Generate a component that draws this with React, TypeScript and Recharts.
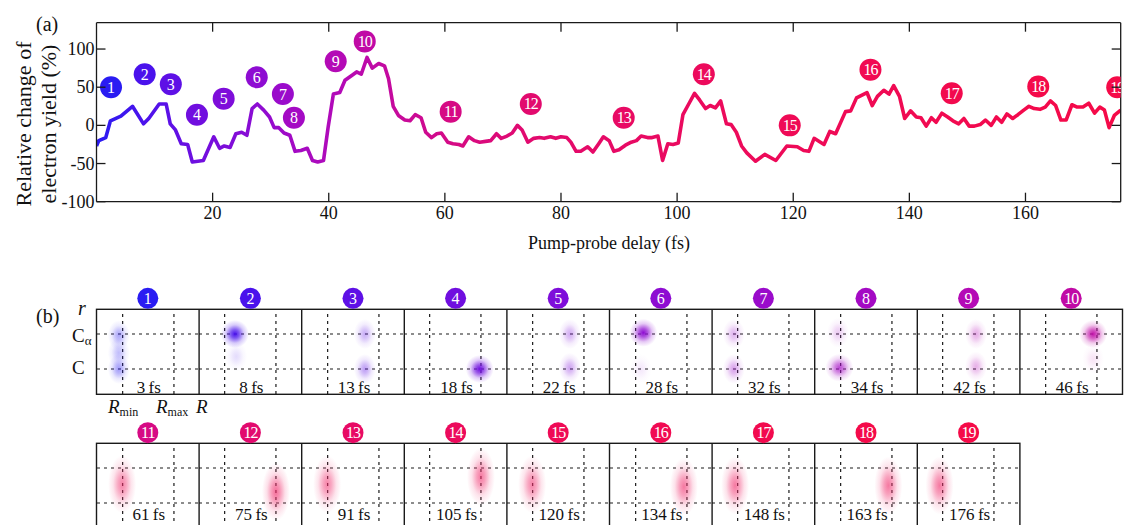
import React from 'react';
import { ComposedChart, Line, Scatter, XAxis, YAxis, ScatterChart, ReferenceLine } from 'recharts';

const W = 1127;
const H = 525;
const FONT = '"Liberation Serif","Times New Roman",serif';

// ---- panel (a) data: pump-probe delay (fs) and relative change of electron yield (%)
const delays = [
  0, 0.4, 1.6, 2.4, 4.2, 6.2, 8.1, 9, 10.8, 12,
  12.7, 13.6, 14.6, 15.7, 16.5, 18.4, 20.2, 21.2, 22, 23,
  24, 25, 25.9, 26.8, 27.7, 28.8, 29.8, 30.6, 31.4, 32.3,
  33.3, 34.2, 35.2, 36.3, 37.2, 38.1, 39.1, 39.9, 40.8, 41.9,
  42.8, 43.9, 44.8, 45.6, 46.6, 47.5, 48.6, 49.6, 50.3, 51.1,
  52, 53.1, 54, 54.9, 55.9, 56.7, 57.7, 58.6, 59.4, 60.5,
  61.4, 62.4, 63.1, 64.1, 65.1, 66, 67, 67.9, 68.9, 69.7,
  70.7, 71.6, 72.5, 73.3, 74.3, 75.3, 76.3, 77.1, 78.2, 79.1,
  80, 81, 81.7, 82.6, 83.4, 84.6, 85.5, 86.5, 87.3, 88.3,
  89.1, 90, 91.1, 92.1, 93, 93.8, 94.9, 95.7, 96.7, 97.5,
  98.4, 99.3, 100.2, 101, 102, 103, 103.9, 104.9, 105.7, 106.6,
  107.5, 108.5, 109.3, 110.2, 111.1, 112, 113.5, 115.1, 117, 118.9,
  120.7, 121.8, 122.7, 123.6, 125.3, 126.3, 127.3, 129, 129.9, 130.9,
  132.7, 133.6, 134.5, 135.6, 136.5, 137.3, 138.3, 139.2, 140.2, 141.2,
  142, 142.9, 143.8, 144.6, 145.6, 146.6, 147.5, 148.5, 149.4, 150.3,
  151.2, 152.2, 153.1, 154.1, 155, 155.9, 156.8, 157.8, 158.7, 159.7,
  160.6, 161.5, 162.5, 163.4, 164.3, 165.2, 166.1, 167, 168, 168.9,
  169.9, 170.9, 171.9, 172.8, 173.6, 174.4, 175.3, 176.4,
];
const yields = [
  -27, -20, -16, 6, 12, 25, 2, 9, 28, 28,
  2, -6, -24, -25, -48, -46, -15, -30, -27, -29,
  -11, -9, -13, 22, 28, 20, 11, -3, -3, -10,
  -13, -34, -33, -30, -46, -48, -46, -2, 41, 43,
  59, 65, 70, 67, 89, 75, 81, 78, 61, 25,
  13, 7, 6, 14, 10, -9, -16, -11, -10, -22,
  -24, -25, -27, -15, -20, -22, -21, -20, -11, -17,
  -14, -10, 0, -6, -22, -17, -16, -17, -15, -17,
  -15, -16, -22, -34, -34, -28, -35, -24, -15, -20,
  -34, -32, -26, -22, -20, -14, -16, -16, -14, -46,
  -24, -25, -23, 14, 28, 42, 33, 22, 26, 23,
  32, 2, 1, -9, -27, -36, -47, -38, -46, -27,
  -28, -33, -34, -17, -25, -8, -11, 18, 19, 36,
  43, 26, 38, 46, 41, 52, 38, 9, 19, 11,
  10, -1, 10, 4, 16, 11, 6, 2, 9, -1,
  -1, 1, 7, 0, 11, 4, 15, 9, 14, 20,
  25, 22, 21, 24, 32, 26, 7, 7, 27, 24,
  24, 29, 16, 24, 20, -3, 13, 20,
];

// numbered markers in (a)
const markerDelay = [2.5, 8.3, 12.8, 17.3, 21.9, 27.6, 32.1, 34, 41.2, 46.2, 61, 74.8, 90.8, 104.6, 119.4, 133.3, 147.3, 162.2, 175.8];
const markerValue = [50, 67, 54, 14, 35, 63, 41, 10, 84, 110, 18, 28, 10, 67, 0, 73, 42, 51, 50];
const markerColors = [
  '#2a1cf2', '#4a12ec', '#5e10e6', '#700edf', '#7e0dda', '#8e0cd2', '#9a0bcb', '#a40ac4', '#b40ab6', '#c00aa6',
  '#d60a84', '#e20a6e', '#e80a64', '#ec0a5c', '#ef0a56', '#f10a52', '#f20a4e', '#f40a4a', '#f50a48',
];

const xTicks = [20, 40, 60, 80, 100, 120, 140, 160];
const yTicks = [-100, -50, 0, 50, 100];

// ---- panel (b): snapshot delays and blob positions (R: 1 = Rmin, 3 = Rmax; r: 1 = C, 2.4 = Cα)
const snapshotTimes = [3, 8, 13, 18, 22, 28, 32, 34, 42, 46, 61, 75, 91, 105, 120, 134, 148, 163, 176];
const snapshotBlobs = [
  [{ R: 0.85, r: 2.35, w: 0.4 }, { R: 0.85, r: 1.65, w: 0.3 }, { R: 0.85, r: 1.0, w: 0.45 }],
  [{ R: 1.4, r: 2.4, w: 1 }, { R: 1.45, r: 1.5, w: 0.15 }],
  [{ R: 2.45, r: 2.4, w: 0.35 }, { R: 2.45, r: 1.0, w: 0.42 }],
  [{ R: 2.95, r: 1.0, w: 1 }],
  [{ R: 2.45, r: 2.4, w: 0.35 }, { R: 2.45, r: 1.05, w: 0.38 }],
  [{ R: 1.3, r: 2.45, w: 1 }, { R: 1.2, r: 1.0, w: 0.1 }],
  [{ R: 0.85, r: 2.4, w: 0.32 }, { R: 0.85, r: 1.0, w: 0.4 }],
  [{ R: 0.9, r: 2.45, w: 0.22 }, { R: 0.95, r: 1.05, w: 0.75 }],
  [{ R: 2.3, r: 2.4, w: 0.35 }, { R: 2.3, r: 1.1, w: 0.33 }],
  [{ R: 2.85, r: 2.4, w: 0.95 }, { R: 2.85, r: 1.4, w: 0.12 }],
  [{ R: 0.98, r: 1.75, w: 0.6 }],
  [{ R: 3.0, r: 1.45, w: 0.7 }],
  [{ R: 0.98, r: 1.75, w: 0.6 }],
  [{ R: 3.0, r: 2.05, w: 0.65 }],
  [{ R: 0.98, r: 1.75, w: 0.6 }],
  [{ R: 2.88, r: 1.65, w: 0.65 }],
  [{ R: 0.9, r: 1.7, w: 0.65 }],
  [{ R: 2.86, r: 1.7, w: 0.65 }],
  [{ R: 0.88, r: 1.7, w: 0.65 }],
];

const lineData = delays.map((t, i) => ({ t, y: yields[i] }));
const markerData = markerDelay.map((t, i) => ({ t, y: markerValue[i], n: i + 1, c: markerColors[i] }));

// layout
const TOP_H = 262;
const PL = 96.5;
const PR = 1120.7;
const PT = 22.7;
const PB = 201.7;
const LEFT_W = 60;
const BOTTOM_H = 30;
const PANEL_L = 96.5;
const PANEL_W = 102.6;
const PANEL_H = 85;
const ROW_TOP = [309.3, 443.3];
const INK = '#1a1a1a';
const txt = { fontFamily: FONT };

const BottomTick = (p: any) => {
  const { x, y, payload } = p;
  return (
    <g>
      <line x1={x} x2={x} y1={y} y2={y - 9} stroke={INK} strokeWidth={1.3} />
      <text x={x} y={y + 17} textAnchor="middle" fontSize={18} style={txt} fill="#111">{payload.value}</text>
    </g>
  );
};
const TopTick = (p: any) => {
  const { x, y } = p;
  return <line x1={x} x2={x} y1={y} y2={y + 9} stroke={INK} strokeWidth={1.3} />;
};
const LeftTick = (p: any) => {
  const { x, y, payload } = p;
  return (
    <g>
      <line x1={x} x2={x + 9} y1={y} y2={y} stroke={INK} strokeWidth={1.3} />
      <text x={x - 2} y={y + 6} textAnchor="end" fontSize={18} style={txt} fill="#111">{payload.value}</text>
    </g>
  );
};
const RightTick = (p: any) => {
  const { x, y } = p;
  return <line x1={x} x2={x - 9} y1={y} y2={y} stroke={INK} strokeWidth={1.3} />;
};

const MarkerShape = (p: any) => {
  const { cx, cy, payload } = p;
  return (
    <g>
      <circle cx={cx} cy={cy} r={11} fill={payload.c} />
      <text x={cx} y={cy + 5.5} textAnchor="middle" fontSize={16} style={txt} fill="#fff"
        letterSpacing={payload.n > 9 ? -1 : 0}>{payload.n}</text>
    </g>
  );
};

const makeBlob = (gid: string, row: number) => (p: any) => {
  const { cx, cy, payload } = p;
  const strong = payload.w > 0.5;
  const rx = row === 0 ? (strong ? 14 : 11) : 14;
  const ry = row === 0 ? (strong ? 14 : 15) : 29;
  return <ellipse cx={cx} cy={cy} rx={rx} ry={ry} fill={`url(#${gid})`} opacity={payload.w} />;
};

const Panel = ({ i }: { i: number }) => {
  const row = i < 10 ? 0 : 1;
  const col = i < 10 ? i : i - 10;
  const left = PANEL_L + col * PANEL_W;
  const top = ROW_TOP[row];
  const gid = `blob${i}`;
  const color = row === 0 ? markerColors[i] : '#f0306e';
  return (
    <div style={{ position: 'absolute', left, top, width: PANEL_W, height: PANEL_H }}>
      <ScatterChart width={PANEL_W} height={PANEL_H} margin={{ top: 0, right: 0, bottom: 0, left: 0 }}>
        <defs>
          <radialGradient id={gid} cx="50%" cy="50%" r="50%">
            <stop offset="0%" stopColor={color} stopOpacity={1} />
            <stop offset="30%" stopColor={color} stopOpacity={0.7} />
            <stop offset="65%" stopColor={color} stopOpacity={0.22} />
            <stop offset="100%" stopColor={color} stopOpacity={0} />
          </radialGradient>
        </defs>
        <XAxis type="number" dataKey="R" domain={[0, 4]} hide />
        <YAxis type="number" dataKey="r" domain={[0, 3.4]} hide />
        <Scatter data={snapshotBlobs[i]} shape={makeBlob(gid, row)} isAnimationActive={false} />
        <ReferenceLine x={1} stroke={INK} strokeDasharray="3 4" strokeWidth={1.2} />
        <ReferenceLine x={3} stroke={INK} strokeDasharray="3 4" strokeWidth={1.2} />
        <ReferenceLine y={1} stroke={INK} strokeDasharray="3 4" strokeWidth={1.2} />
        <ReferenceLine y={2.4} stroke={INK} strokeDasharray="3 4" strokeWidth={1.2} />
      </ScatterChart>
    </div>
  );
};

export default function App() {
  const panels = snapshotTimes.map((_, i) => i);
  return (
    <div style={{ position: 'relative', width: W, height: H, overflow: 'hidden', background: '#fff', fontFamily: FONT }}>
      <style>{'body{margin:0}'}</style>
      <div style={{ position: 'absolute', left: 0, top: 0 }}>
        <ComposedChart width={W} height={TOP_H} data={lineData}
          margin={{ top: PT - 1, right: W - PR - 1, bottom: TOP_H - PB - BOTTOM_H, left: PL - LEFT_W }}>
          <defs>
            <linearGradient id="lineGrad" gradientUnits="userSpaceOnUse" x1={PL} x2={PR} y1={0} y2={0}>
              <stop offset="0" stopColor="#2a1cf2" />
              <stop offset="0.045" stopColor="#4a12ec" />
              <stop offset="0.074" stopColor="#5e10e6" />
              <stop offset="0.10" stopColor="#700edf" />
              <stop offset="0.16" stopColor="#8e0cd2" />
              <stop offset="0.19" stopColor="#a20ac5" />
              <stop offset="0.24" stopColor="#b40ab6" />
              <stop offset="0.27" stopColor="#c00aa6" />
              <stop offset="0.35" stopColor="#d60a84" />
              <stop offset="0.425" stopColor="#e20a6e" />
              <stop offset="0.6" stopColor="#ec0a5c" />
              <stop offset="1" stopColor="#f50a48" />
            </linearGradient>
          </defs>
          <XAxis xAxisId="bottom" dataKey="t" type="number" domain={[0, 176.4]} ticks={xTicks} interval={0}
            height={BOTTOM_H} tickSize={0} tickMargin={0} tickLine={false} tick={<BottomTick />}
            axisLine={{ stroke: INK, strokeWidth: 1.3 }} allowDataOverflow />
          <XAxis xAxisId="top" orientation="top" dataKey="t" type="number" domain={[0, 176.4]} ticks={xTicks} interval={0}
            height={1} tickSize={0} tickMargin={0} tickLine={false} tick={<TopTick />}
            axisLine={{ stroke: INK, strokeWidth: 1.3 }} allowDataOverflow />
          <YAxis yAxisId="left" dataKey="y" type="number" domain={[-100, 134.5]} ticks={yTicks} interval={0}
            width={LEFT_W} tickSize={0} tickMargin={0} tickLine={false} tick={<LeftTick />}
            axisLine={{ stroke: INK, strokeWidth: 1.3 }} allowDataOverflow />
          <YAxis yAxisId="right" orientation="right" dataKey="y" type="number" domain={[-100, 134.5]} ticks={yTicks} interval={0}
            width={1} tickSize={0} tickMargin={0} tickLine={false} tick={<RightTick />}
            axisLine={{ stroke: INK, strokeWidth: 1.3 }} allowDataOverflow />
          <Line xAxisId="top" yAxisId="right" dataKey="y" stroke="none" dot={false} isAnimationActive={false} />
          <Line xAxisId="bottom" yAxisId="left" dataKey="y" stroke="url(#lineGrad)" strokeWidth={3.6}
            strokeLinejoin="round" dot={false} isAnimationActive={false} />
          <Scatter xAxisId="bottom" yAxisId="left" data={markerData} dataKey="y" shape={MarkerShape} isAnimationActive={false} />
        </ComposedChart>
      </div>

      {panels.map((i) => <Panel key={i} i={i} />)}

      <svg width={W} height={H} style={{ position: 'absolute', left: 0, top: 0, pointerEvents: 'none' }}>
        {/* panel (a) texts */}
        <text x={36} y={31} fontSize={20} style={txt} fill="#111">(a)</text>
        <text transform="translate(31,124) rotate(-90)" textAnchor="middle" fontSize={22} style={txt} fill="#111">Relative change of</text>
        <text transform="translate(56,124) rotate(-90)" textAnchor="middle" fontSize={22} style={txt} fill="#111">electron yield (%)</text>
        <text x={609} y={249} textAnchor="middle" fontSize={18} style={txt} fill="#111">Pump-probe delay (fs)</text>

        {/* panel (b) texts */}
        <text x={36} y={323} fontSize={20} style={txt} fill="#111">(b)</text>
        <text x={78} y={315} fontSize={20} fontStyle="italic" style={txt} fill="#111">r</text>
        <text x={72} y={342} fontSize={19} style={txt} fill="#111">C<tspan fontSize={13} dy={3}>α</tspan></text>
        <text x={72} y={374} fontSize={19} style={txt} fill="#111">C</text>
        <text x={108} y={413} fontSize={19} style={txt} fill="#111"><tspan fontStyle="italic">R</tspan><tspan fontSize={12} dy={3}>min</tspan></text>
        <text x={156} y={413} fontSize={19} style={txt} fill="#111"><tspan fontStyle="italic">R</tspan><tspan fontSize={12} dy={3}>max</tspan></text>
        <text x={196} y={413} fontSize={19} fontStyle="italic" style={txt} fill="#111">R</text>

        {/* panel frames */}
        {[0, 1].map((row) => {
          const n = row === 0 ? 10 : 9;
          const top = ROW_TOP[row];
          const h = PANEL_H + (row === 1 ? 40 : 0);
          return (
            <g key={row}>
              <rect x={PANEL_L} y={top} width={n * PANEL_W} height={h} fill="none" stroke={INK} strokeWidth={1.4} />
              {Array.from({ length: n - 1 }, (_, k) => (
                <line key={k} x1={PANEL_L + (k + 1) * PANEL_W} x2={PANEL_L + (k + 1) * PANEL_W} y1={top} y2={top + h} stroke={INK} strokeWidth={1.4} />
              ))}
            </g>
          );
        })}

        {/* snapshot numbers and delay labels */}
        {snapshotTimes.map((t, i) => {
          const row = i < 10 ? 0 : 1;
          const col = i < 10 ? i : i - 10;
          const cx = PANEL_L + col * PANEL_W + PANEL_W / 2;
          const cy = row === 0 ? 298.3 : 432.7;
          const base = row === 0 ? 392.5 : 520;
          return (
            <g key={i}>
              <circle cx={cx} cy={cy} r={10.5} fill={markerColors[i]} />
              <text x={cx} y={cy + 5.5} textAnchor="middle" fontSize={16} style={txt} fill="#fff" letterSpacing={i >= 9 ? -1 : 0}>{i + 1}</text>
              <text x={cx + 1} y={base} textAnchor="middle" fontSize={17} style={txt} fill="#111">{`${t}\u2009fs`}</text>
            </g>
          );
        })}
      </svg>
    </div>
  );
}
